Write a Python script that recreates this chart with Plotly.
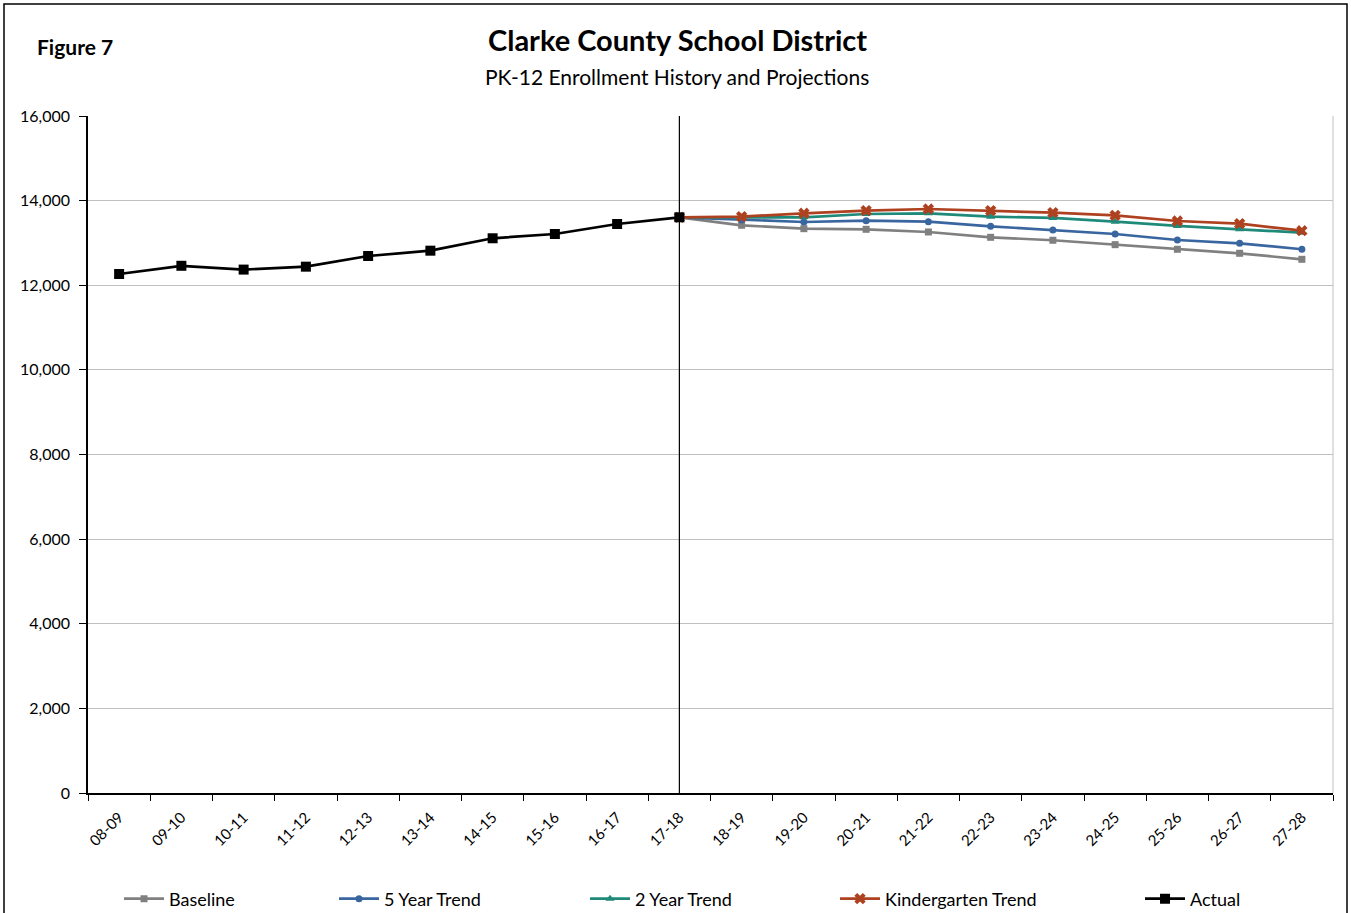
import plotly.graph_objects as go

years = ["08-09", "09-10", "10-11", "11-12", "12-13", "13-14", "14-15", "15-16", "16-17", "17-18",
         "18-19", "19-20", "20-21", "21-22", "22-23", "23-24", "24-25", "25-26", "26-27", "27-28"]
hist_years = years[:10]
proj_years = years[9:]

actual = [12266, 12460, 12370, 12439, 12691, 12817, 13110, 13211, 13448, 13606]
baseline = [13606, 13417, 13337, 13322, 13259, 13133, 13063, 12959, 12850, 12755, 12613]
trend5 = [13606, 13542, 13495, 13526, 13502, 13393, 13306, 13211, 13070, 12991, 12850]
trend2 = [13606, 13601, 13606, 13684, 13701, 13620, 13590, 13502, 13401, 13322, 13242]
kinder = [13606, 13620, 13701, 13762, 13802, 13762, 13715, 13653, 13519, 13455, 13289]

W, H = 1351, 913
L, R, T, B = 88, 18, 116, 120
pw, ph = W - L - R, H - T - B

def px(x):
    return (x - L) / pw

def py(y):
    return (H - B - y) / ph

font = "Lato"
fig = go.Figure()

series = [
    ("Baseline", proj_years, baseline, "#808080", "square", 7, "legend"),
    ("5 Year Trend", proj_years, trend5, "#3A66A0", "circle", 7, "legend2"),
    ("2 Year Trend", proj_years, trend2, "#1F8A7A", "triangle-up", 8, "legend3"),
    ("Kindergarten Trend", proj_years, kinder, "#AE4220", "x", 10, "legend4"),
    ("Actual", hist_years, actual, "#000000", "square", 10, "legend5"),
]
for name, xs, ys, col, sym, sz, lg in series:
    fig.add_trace(go.Scatter(
        x=xs, y=ys, name=name, mode="lines+markers",
        line=dict(color=col, width=2.7),
        marker=dict(symbol=sym, size=sz, color=col),
        legend=lg,
    ))

# legend positions (left x of symbol)
leg_x = [124, 339, 590, 840, 1145]
legend_common = dict(orientation="h", yanchor="middle", y=py(899), xanchor="left",
                     bgcolor="rgba(0,0,0,0)", itemwidth=40,
                     font=dict(family=font, size=18, color="#000000"), itemclick=False)
layout_legends = {}
for i, lx in enumerate(leg_x):
    key = "legend" if i == 0 else f"legend{i+1}"
    layout_legends[key] = dict(legend_common, x=px(lx) - 0.004)

fig.update_layout(
    width=W, height=H,
    margin=dict(l=L, r=R, t=T, b=B, autoexpand=False),
    paper_bgcolor="white", plot_bgcolor="white",
    showlegend=True,
    **layout_legends,
    xaxis=dict(
        type="category", categoryorder="array", categoryarray=years,
        tickson="boundaries", ticks="outside", ticklen=6, tickcolor="#000000",
        ticklabelstandoff=8,
        showline=True, linecolor="#000000", linewidth=1.5,
        showgrid=False, tickangle=-45, automargin=False,
        tickfont=dict(family=font, size=15, color="#000000"),
        range=[-0.5, 19.5],
    ),
    yaxis=dict(
        range=[0, 16000], dtick=2000, tickformat=",",
        ticks="outside", ticklen=7, tickcolor="#000000", ticklabelstandoff=6,
        showline=True, linecolor="#000000", linewidth=1.5,
        showgrid=True, gridcolor="#C0C0C0", gridwidth=1, automargin=False,
        tickfont=dict(family=font, size=16, color="#000000"),
        zeroline=False,
    ),
    shapes=[
        dict(type="line", xref="paper", yref="paper", x0=1, x1=1, y0=0, y1=1,
             line=dict(color="#C0C0C0", width=1)),
        dict(type="line", xref="x", yref="paper", x0="17-18", x1="17-18", y0=0, y1=1,
             line=dict(color="#000000", width=1.2)),
        dict(type="rect", xref="paper", yref="paper",
             x0=px(4), x1=px(1347), y0=py(925), y1=py(4),
             line=dict(color="#000000", width=1.5), fillcolor="rgba(0,0,0,0)", layer="below"),
    ],
    annotations=[
        dict(text="<b>Clarke County School District</b>", xref="paper", yref="paper",
             x=px(677), y=py(39), xanchor="center", yanchor="middle", showarrow=False,
             font=dict(family=font, size=29, color="#000000")),
        dict(text="PK-12 Enrollment History and Projections", xref="paper", yref="paper",
             x=px(677), y=py(77), xanchor="center", yanchor="middle", showarrow=False,
             font=dict(family=font, size=21, color="#000000")),
        dict(text="<b>Figure 7</b>", xref="paper", yref="paper",
             x=px(35), y=py(46), xanchor="left", yanchor="middle", showarrow=False,
             font=dict(family=font, size=21, color="#000000")),
    ],
)

fig.write_html("out.html", config={"displayModeBar": False},
               post_script="document.body.style.margin='0';document.body.style.overflow='hidden';")
